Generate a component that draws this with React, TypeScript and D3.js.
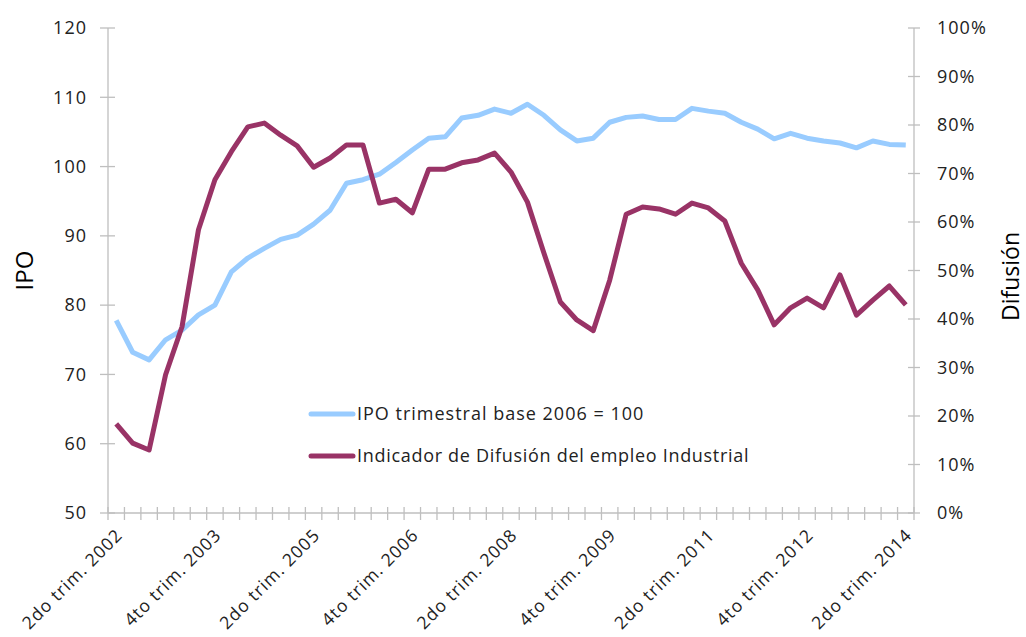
import React from "react";
import * as d3 from "d3";

const quarters = [
  "2do trim. 2002", "3er trim. 2002", "4to trim. 2002",
  "1er trim. 2003", "2do trim. 2003", "3er trim. 2003", "4to trim. 2003",
  "1er trim. 2004", "2do trim. 2004", "3er trim. 2004", "4to trim. 2004",
  "1er trim. 2005", "2do trim. 2005", "3er trim. 2005", "4to trim. 2005",
  "1er trim. 2006", "2do trim. 2006", "3er trim. 2006", "4to trim. 2006",
  "1er trim. 2007", "2do trim. 2007", "3er trim. 2007", "4to trim. 2007",
  "1er trim. 2008", "2do trim. 2008", "3er trim. 2008", "4to trim. 2008",
  "1er trim. 2009", "2do trim. 2009", "3er trim. 2009", "4to trim. 2009",
  "1er trim. 2010", "2do trim. 2010", "3er trim. 2010", "4to trim. 2010",
  "1er trim. 2011", "2do trim. 2011", "3er trim. 2011", "4to trim. 2011",
  "1er trim. 2012", "2do trim. 2012", "3er trim. 2012", "4to trim. 2012",
  "1er trim. 2013", "2do trim. 2013", "3er trim. 2013", "4to trim. 2013",
  "1er trim. 2014", "2do trim. 2014",
];

const shownLabels = [
  "2do trim. 2002", "4to trim. 2003", "2do trim. 2005", "4to trim. 2006",
  "2do trim. 2008", "4to trim. 2009", "2do trim. 2011", "4to trim. 2012",
  "2do trim. 2014",
];

// IPO trimestral base 2006 = 100 (left axis)
const ipo = [
  77.8, 73.2, 72.1, 75.0, 76.4, 78.6, 80.0, 84.8, 86.8, 88.2,
  89.5, 90.1, 91.7, 93.7, 97.6, 98.1, 98.9, 100.6, 102.4, 104.1,
  104.3, 107.0, 107.4, 108.3, 107.7, 109.0, 107.4, 105.3, 103.7, 104.1,
  106.4, 107.1, 107.3, 106.8, 106.8, 108.4, 108.0, 107.7, 106.4, 105.4,
  104.0, 104.8, 104.1, 103.7, 103.4, 102.7, 103.7, 103.2, 103.1,
];

// Indicador de Difusión del empleo Industrial, % (right axis)
const difusion = [
  18.4, 14.4, 13.0, 28.5, 38.4, 58.4, 68.7, 74.5, 79.6, 80.4,
  77.9, 75.7, 71.3, 73.2, 75.9, 75.9, 63.9, 64.7, 61.9, 70.9,
  70.9, 72.2, 72.8, 74.2, 70.3, 64.1, 53.6, 43.5, 39.8, 37.6,
  48.0, 61.6, 63.1, 62.7, 61.6, 63.9, 62.9, 60.2, 51.5, 46.0,
  38.8, 42.3, 44.3, 42.3, 49.1, 40.8, 43.9, 46.8, 42.9,
];

const leftTicks = [50, 60, 70, 80, 90, 100, 110, 120];
const rightTicks = [0, 10, 20, 30, 40, 50, 60, 70, 80, 90, 100];

const W = 1026;
const H = 637;
const m = { left: 108, right: 112, top: 28, bottom: 124 };
const font = "'Open Sans', 'DejaVu Sans', sans-serif";
const axisColor = "#bfbfbf";
const blue = "#99ccff";
const purple = "#993366";
const ls = 1;

export default function App() {
  const x = d3.scaleBand<string>().domain(quarters).range([m.left, W - m.right]);
  const yL = d3.scaleLinear().domain([50, 120]).range([H - m.bottom, m.top]);
  const yR = d3.scaleLinear().domain([0, 100]).range([H - m.bottom, m.top]);
  const cx = (q: string) => (x(q) as number) + x.bandwidth() / 2;

  const lineL = d3.line<number>().x((_, i) => cx(quarters[i])).y((d) => yL(d));
  const lineR = d3.line<number>().x((_, i) => cx(quarters[i])).y((d) => yR(d));

  const x0 = m.left;
  const x1 = W - m.right;
  const yb = H - m.bottom;
  const boundaries = quarters.map((q) => x(q) as number).concat([x1]);

  return (
    <svg width={W} height={H} style={{ position: "absolute", left: 0, top: 0, background: "#fff" }} fontFamily={font}>
      {/* axes */}
      <line x1={x0} x2={x0} y1={m.top} y2={yb} stroke={axisColor} strokeWidth={1.3} />
      <line x1={x1} x2={x1} y1={m.top} y2={yb} stroke={axisColor} strokeWidth={1.3} />
      <line x1={x0} x2={x1} y1={yb} y2={yb} stroke={axisColor} strokeWidth={1.3} />
      {leftTicks.map((t) => (
        <g key={"l" + t}>
          <line x1={x0 - 8} x2={x0 + 7} y1={yL(t)} y2={yL(t)} stroke={axisColor} strokeWidth={1.3} />
          <text x={x0 - 21} y={yL(t)} dy="0.35em" textAnchor="end" fontSize={18} letterSpacing={ls} fill="#222">{t}</text>
        </g>
      ))}
      {rightTicks.map((t) => (
        <g key={"r" + t}>
          <line x1={x1 - 6} x2={x1 + 6} y1={yR(t)} y2={yR(t)} stroke={axisColor} strokeWidth={1.3} />
          <text x={x1 + 23} y={yR(t)} dy="0.35em" textAnchor="start" fontSize={18} letterSpacing={ls} fill="#222">{t + "%"}</text>
        </g>
      ))}
      {boundaries.map((b, i) => (
        <line key={"b" + i} x1={b} x2={b} y1={yb - 6} y2={yb + 7} stroke={axisColor} strokeWidth={1.3} />
      ))}
      {shownLabels.map((q) => (
        <text key={q} transform={`translate(${cx(q) + 3},${yb + 19}) rotate(-45)`} textAnchor="end" dy="0.35em" fontSize={17.5} letterSpacing={ls} fill="#222">{q}</text>
      ))}

      {/* axis titles */}
      <text transform={`translate(33,${(m.top + yb) / 2}) rotate(-90)`} textAnchor="middle" fontSize={24} fontWeight={500} fill="#000">IPO</text>
      <text transform={`translate(1019,${(m.top + yb) / 2 + 6}) rotate(-90)`} textAnchor="middle" fontSize={23} fontWeight={500} fill="#000">Difusión</text>

      {/* series */}
      <path d={lineL(ipo) as string} fill="none" stroke={blue} strokeWidth={5} strokeLinejoin="round" />
      <path d={lineR(difusion) as string} fill="none" stroke={purple} strokeWidth={5} strokeLinejoin="round" />

      {/* legend */}
      <line x1={311} x2={353} y1={414} y2={414} stroke={blue} strokeWidth={5} strokeLinecap="round" />
      <text x={357} y={414} dy="0.35em" fontSize={18} letterSpacing={ls} fill="#222">IPO trimestral base 2006 = 100</text>
      <line x1={311} x2={353} y1={456} y2={456} stroke={purple} strokeWidth={5} strokeLinecap="round" />
      <text x={357} y={456} dy="0.35em" fontSize={18} letterSpacing={0.7} fill="#222">Indicador de Difusión del empleo Industrial</text>
    </svg>
  );
}
